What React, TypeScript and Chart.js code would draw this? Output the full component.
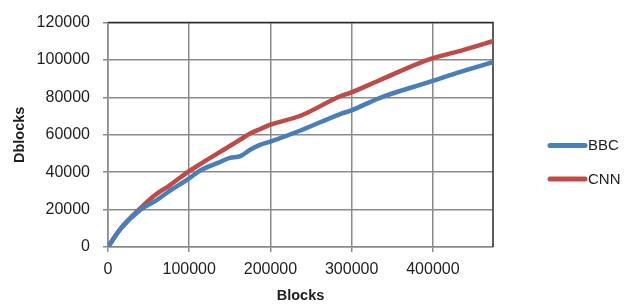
import { useEffect, useRef } from "react";
import { Chart, registerables } from "chart.js";

Chart.register(...registerables);

const blocks = [0, 15000, 40000, 58000, 76000, 99000, 113000, 136000, 150000, 163000, 175000, 187000, 200000, 237000, 286000, 298000, 335000, 397000, 434000, 474000];
const bbc = [0, 9400, 20000, 24500, 30000, 36400, 40800, 45100, 47700, 48600, 52000, 54600, 56400, 62300, 71100, 72800, 79800, 88400, 93600, 98800];
const cnn = [0, 9600, 20800, 27800, 33000, 40300, 44200, 50300, 54000, 57500, 60700, 63000, 65400, 70200, 80600, 82400, 89300, 100600, 104900, 110100];
const xTickValues = [0, 100000, 200000, 300000, 400000];
const seriesNames = ["BBC", "CNN"];
const seriesColors = ["#4a7ebb", "#be4b48"];
const xTitle = "Blocks";
const yTitle = "Dblocks";

const FONT = "'Liberation Sans', Arial, sans-serif";
const GRID = "#8a8a8a";

const framePlugin = {
  id: "frame",
  beforeDatasetsDraw(chart: any) {
    const { ctx, chartArea } = chart;
    ctx.save();
    ctx.strokeStyle = "#2a2a2a";
    ctx.lineWidth = 1.5;
    ctx.beginPath();
    ctx.moveTo(chartArea.left, chartArea.top);
    ctx.lineTo(chartArea.right, chartArea.top);
    ctx.lineTo(chartArea.right, chartArea.bottom);
    ctx.stroke();
    ctx.restore();
  },
};

const legendPlugin = {
  id: "sideLegend",
  afterDraw(chart: any) {
    const { ctx } = chart;
    ctx.save();
    chart.data.datasets.forEach((d: any, i: number) => {
      const y = 145.5 + i * 33.5;
      ctx.strokeStyle = d.borderColor;
      ctx.lineWidth = 5;
      ctx.lineCap = "round";
      ctx.beginPath();
      ctx.moveTo(550, y);
      ctx.lineTo(585, y);
      ctx.stroke();
      ctx.fillStyle = "#1e1e1e";
      ctx.font = `15px ${FONT}`;
      ctx.textBaseline = "middle";
      ctx.textAlign = "left";
      ctx.fillText(d.label, 588, y + 0.5);
    });
    ctx.restore();
  },
};

export default function App() {
  const ref = useRef<HTMLCanvasElement | null>(null);

  useEffect(() => {
    document.body.style.margin = "0";
    const canvas = ref.current;
    if (!canvas) return;
    const mk = (vals: number[]) => blocks.map((b, i) => ({ x: b, y: vals[i] }));
    const chart = new Chart(canvas, {
      type: "line",
      data: {
        datasets: [
          {
            label: seriesNames[0],
            data: mk(bbc),
            borderColor: seriesColors[0],
            backgroundColor: seriesColors[0],
            borderWidth: 4.5,
            pointRadius: 0,
            tension: 0.3,
            cubicInterpolationMode: "monotone",
            borderCapStyle: "round",
            borderJoinStyle: "round",
          },
          {
            label: seriesNames[1],
            data: mk(cnn),
            borderColor: seriesColors[1],
            backgroundColor: seriesColors[1],
            borderWidth: 4.5,
            pointRadius: 0,
            tension: 0.3,
            cubicInterpolationMode: "monotone",
            borderCapStyle: "round",
            borderJoinStyle: "round",
          },
        ],
      },
      options: {
        responsive: false,
        animation: false,
        layout: { padding: { top: 16, right: 141, left: 0, bottom: 0 } },
        plugins: {
          legend: { display: false },
          tooltip: { enabled: false },
        },
        scales: {
          x: {
            type: "linear",
            min: 0,
            max: 474000,
            afterBuildTicks: (s: any) => {
              s.ticks = xTickValues.map((v) => ({ value: v }));
            },
            afterFit: (s: any) => {
              s.height = 58;
            },
            ticks: {
              padding: 8,
              color: "#1e1e1e",
              font: { family: FONT, size: 16 },
              callback: (v: any) => String(v),
              maxRotation: 0,
              autoSkip: false,
            },
            grid: { color: GRID, lineWidth: 1.5, tickLength: 5 },
            border: { color: GRID, width: 1.5 },
            title: {
              display: true,
              text: xTitle,
              color: "#1e1e1e",
              font: { family: FONT, size: 14.5, weight: "bold" },
              padding: { top: 0, bottom: 0 },
            },
          },
          y: {
            min: 0,
            max: 120000,
            afterFit: (s: any) => {
              s.width = 108;
            },
            ticks: {
              stepSize: 20000,
              padding: 13,
              color: "#1e1e1e",
              font: { family: FONT, size: 16 },
              callback: (v: any) => String(v),
            },
            grid: { color: GRID, lineWidth: 1.5, tickLength: 5 },
            border: { color: GRID, width: 1.5 },
            title: {
              display: true,
              text: yTitle,
              color: "#1e1e1e",
              font: { family: FONT, size: 14.5, weight: "bold" },
              padding: { top: 11, bottom: 0 },
            },
          },
        },
      },
      plugins: [framePlugin, legendPlugin],
    } as any);
    return () => chart.destroy();
  }, []);

  return <canvas ref={ref} width={634} height={305} style={{ display: "block" }} />;
}
